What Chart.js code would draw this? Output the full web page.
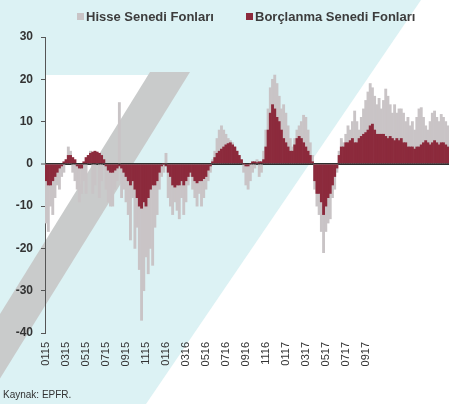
<!DOCTYPE html>
<html>
<head>
<meta charset="utf-8">
<script src="https://cdn.jsdelivr.net/npm/chart.js@4.4.1/dist/chart.umd.min.js"></script>
<style>
  html, body { margin: 0; padding: 0; background: #fff; }
  #wrap { position: relative; width: 449px; height: 404px; overflow: hidden; }
  #chart { position: absolute; left: 0; top: 0; }
  .legend { position: absolute; top: 9px; font: bold 13px "Liberation Sans", Arial, sans-serif; color: #3c3c3c; white-space: nowrap; }
  .legend i { display: inline-block; width: 7px; height: 7px; margin-right: 2px; vertical-align: 1px; }
  #source { position: absolute; left: 3px; top: 389px; font: 10px "Liberation Sans", Arial, sans-serif; color: #333; }
</style>
</head>
<body>
<div id="wrap">
  <canvas id="chart" width="449" height="404"></canvas>
  <div class="legend" style="left:77px"><i style="background:#c9c4c6"></i>Hisse Senedi Fonları</div>
  <div class="legend" style="left:246px"><i style="background:#8c2a3c"></i>Borçlanma Senedi Fonları</div>
  <div id="source">Kaynak: EPFR.</div>
</div>
<script>
// weekly fund flows (bn USD), Jan 2015 onwards
const hisseFlows = [
  -14, -16, -10, -12, -8, -5, -6, -3, -2, 1,
  4, 3, -2, -4, -6, -9, -7, -4, -7, 2,
  3, -7, -5, 2, -8, -4, 1, -6, -9, -10,
  -10, -6, -4, 14.5, -8, -6, -9, -12, -18, -8,
  -20, -15, -25, -37, -30, -22, -26, -20, -24, -15,
  -12, -6, -3, -2, 2.5, -8, -10, -12, -9, -11,
  -13, -8, -12, -9, -5, -3, -6, -8, -10, -7,
  -10, -8, -6, -4, -2, 1, 3, 6, 8, 9,
  8, 7, 6, 5.5, 5, 4, 3, 2, 1, -2,
  -5, -6, -4, -2, -1, 1, -3, -2, 3, 8,
  13, 18, 20, 21, 19, 16, 13, 14, 12, 9,
  6, 4, 6, 8, 9, 10, 11.5, 11, 8, 5,
  2, -6, -10, -12, -16, -21, -16, -14, -13, -8,
  -6, -2, 3, 6, 5, 7, 9, 8, 10, 12.5,
  10, 8, 11, 13, 15, 17, 19, 18, 16, 14,
  15.5, 13, 15, 17.7, 16, 14, 12, 14, 12, 13,
  13, 12, 10, 11, 9, 10, 8, 11, 13, 13.3,
  11, 9, 8, 10, 12, 12.5, 11, 10, 11.7, 11, 10, 9
];
const borcFlows = [
  -4, -5, -5, -4, -3, -2, -1, -0.5, 0.5, 1,
  2, 2, 1.5, 1, -0.5, -1, -1, 0.5, 1.5, 2,
  2.5, 2.8, 3, 2.8, 2.5, 2, 1, -0.5, -1.5, -2,
  -2, -1.5, -1, -0.5, -1, -2, -3, -4, -5, -4,
  -6, -8, -10, -10.5, -9, -10, -8, -6, -5, -5,
  -4, -2, -0.5, 0, -0.5, -2, -3, -5, -5.5, -5,
  -5, -4, -5, -4, -3, -2, -3, -4, -4.5, -4,
  -4, -3.5, -3, -1.5, -0.5, 0.5, 1.5, 2.5, 3, 3.5,
  4, 4.5, 4.8, 5, 4.5, 4, 3, 2, 1, 0,
  -0.5, -0.5, 0, 0.5, 0.5, 0.3, 0.5, 0.5, 1, 4,
  8, 12, 14, 13, 11, 10, 8, 6, 5, 4,
  3, 3, 4.5, 6, 6.5, 6, 5, 4, 3, 2,
  0.5, -4, -7, -7, -9, -12, -10, -8, -7, -5,
  -3, -1, 2, 4, 4, 5, 5, 5.5, 6, 5,
  5, 6, 6.5, 7, 7.4, 8, 9, 9.4, 8, 7,
  7, 7, 7, 6.5, 6, 6.5, 6, 5.5, 6, 5.5,
  6, 5, 5, 4, 4, 4, 3.5, 4, 4, 4.5,
  5, 5.5, 5, 4.5, 5, 5.5, 5, 4.5, 5, 5, 4.5, 4
];
const tickLabels = ['0115', '0315', '0515', '0715', '0915', '1115', '0116', '0316', '0516',
                    '0716', '0916', '1116', '0117', '0317', '0517', '0717', '0917'];
const labelEvery = 9; // one label every 9 weeks
const weeks = hisseFlows.map((_, i) => i);

// scanned page backdrop: cyan paper, white wedges and the grey diagonal band
const backdrop = {
    id: 'backdrop',
    beforeDraw(chart) {
        const c = chart.ctx;
        c.save();
        c.fillStyle = '#dcf2f4';
        c.fillRect(0, 0, chart.width, chart.height);
        c.fillStyle = '#ffffff';
        c.beginPath();
        c.moveTo(421, 0); c.lineTo(449, 0); c.lineTo(449, 404); c.lineTo(146, 404);
        c.closePath(); c.fill();
        c.beginPath();
        c.moveTo(45, 75); c.lineTo(151, 75); c.lineTo(45, 246);
        c.closePath(); c.fill();
        const xr = y => 190 - 0.62 * (y - 72);
        c.fillStyle = '#c9cbcb';
        c.beginPath();
        c.moveTo(xr(72) - 40, 72); c.lineTo(xr(72), 72);
        c.lineTo(xr(404), 404); c.lineTo(xr(404) - 40, 404);
        c.closePath(); c.fill();
        c.restore();
    }
};

const ctx = document.getElementById('chart').getContext('2d');
const flowChart = new Chart(ctx, {
    type: 'bar',
    data: {
        labels: weeks,
        datasets: [{
            label: 'Hisse Senedi Fonları',
            data: hisseFlows,
            backgroundColor: '#c9c4c6',
            order: 2
        }, {
            label: 'Borçlanma Senedi Fonları',
            data: borcFlows,
            backgroundColor: '#8c2a3c',
            order: 1
        }]
    },
    options: {
        responsive: false,
        devicePixelRatio: 1,
        animation: false,
        layout: { padding: { top: 37, left: 0, right: 0, bottom: 0 } },
        datasets: {
            bar: { grouped: false, barPercentage: 1, categoryPercentage: 1 }
        },
        scales: {
            x: {
                grid: { display: false, drawTicks: false },
                border: { display: false },
                ticks: {
                    autoSkip: false,
                    minRotation: 90,
                    maxRotation: 90,
                    padding: 9,
                    color: '#333',
                    font: { family: 'Liberation Sans', size: 11 },
                    callback: (val, i) => (i % labelEvery === 0 && tickLabels[i / labelEvery]) || ''
                },
                afterFit: scale => {
                    scale.height = 71;
                    scale.paddingLeft = 0;
                    scale.paddingRight = 0;
                }
            },
            y: {
                min: -40,
                max: 30,
                ticks: {
                    stepSize: 10,
                    padding: 8,
                    color: '#333',
                    font: { family: 'Liberation Sans', size: 12, weight: 'bold' }
                },
                grid: {
                    color: c => c.tick && c.tick.value === 0 ? '#2e2e2e' : 'rgba(0,0,0,0)',
                    lineWidth: c => c.tick && c.tick.value === 0 ? 2 : 1,
                    tickColor: '#555',
                    tickWidth: 1,
                    tickLength: 4
                },
                border: { display: true, color: '#555', width: 1 },
                afterFit: scale => { scale.width = 45; }
            }
        },
        plugins: {
            legend: { display: false },
            tooltip: { enabled: false }
        }
    },
    plugins: [backdrop]
});
</script>
</body>
</html>
